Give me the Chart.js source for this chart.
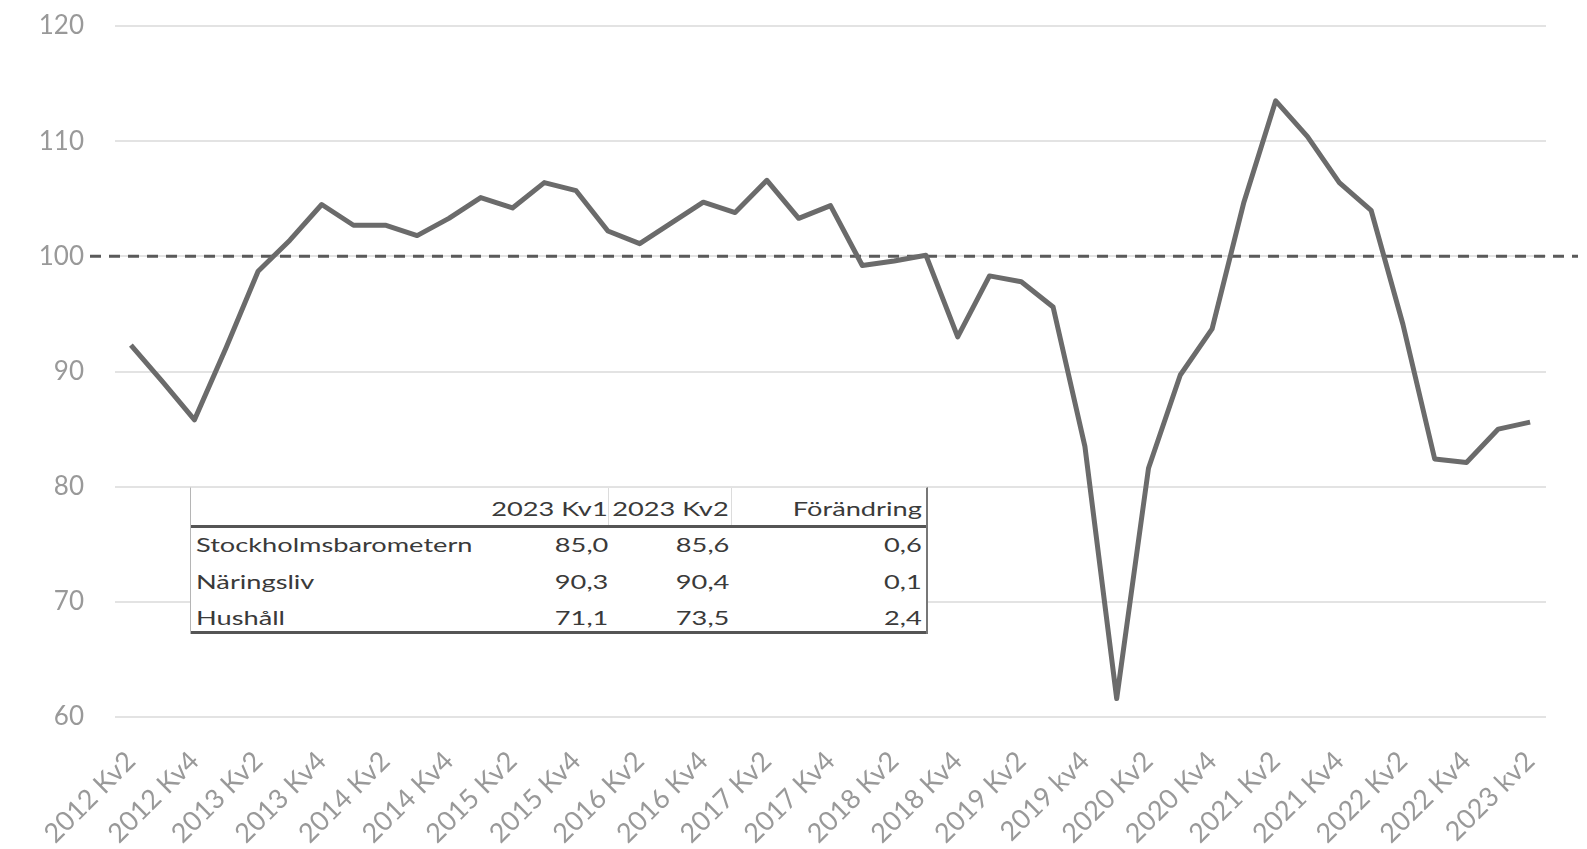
<!DOCTYPE html>
<html>
<head>
<meta charset="utf-8">
<script src="https://cdn.jsdelivr.net/npm/chart.js@4.4.1/dist/chart.umd.min.js"></script>
<style>
  html, body { margin: 0; padding: 0; background: #fff; }
  #wrap { position: relative; width: 1587px; height: 849px; }
  canvas { display: block; }
  #tbl {
    position: absolute; left: 190px; top: 487px; width: 738px; height: 147px;
    background: #fff; box-sizing: border-box;
    border-left: 1px solid #b5b5b5; border-right: 2px solid #777; border-top: 1px solid #e2e2e2;
    font-family: Lato, "Open Sans", sans-serif; font-size: 20px; color: #3a3a3a;
  }
  #tbl .rule { position: absolute; left: 0; right: 0; height: 3px; background: #555; }
  #tbl .sep { position: absolute; top: 0; width: 1px; height: 37px; background: #dcdcdc; }
  #tbl .t { position: absolute; white-space: nowrap; line-height: 24px; height: 24px; }
  #tbl .t span { display: inline-block; transform: scaleX(1.36); transform-origin: left center; }
  #tbl .r span { transform-origin: right center; }
</style>
</head>
<body>
<div id="wrap">
  <canvas id="myfirstchart1" width="1587" height="849"></canvas>
  <div id="tbl"></div>
</div>
<script>
// kvartal 2012 Kv2 .. 2023 Kv2
const quarters = [
  "2012 Kv2", "2012 Kv3", "2012 Kv4",
  "2013 Kv1", "2013 Kv2", "2013 Kv3", "2013 Kv4",
  "2014 Kv1", "2014 Kv2", "2014 Kv3", "2014 Kv4",
  "2015 Kv1", "2015 Kv2", "2015 Kv3", "2015 Kv4",
  "2016 Kv1", "2016 Kv2", "2016 Kv3", "2016 Kv4",
  "2017 Kv1", "2017 Kv2", "2017 Kv3", "2017 Kv4",
  "2018 Kv1", "2018 Kv2", "2018 Kv3", "2018 Kv4",
  "2019 Kv1", "2019 Kv2", "2019 Kv3", "2019 kv4",
  "2020 Kv1", "2020 Kv2", "2020 Kv3", "2020 Kv4",
  "2021 Kv1", "2021 Kv2", "2021 Kv3", "2021 Kv4",
  "2022 Kv1", "2022 Kv2", "2022 Kv3", "2022 Kv4",
  "2023 Kv1", "2023 kv2"
];

const barometer = [
  92.3, 89.1, 85.8,
  92.1, 98.7, 101.4, 104.5,
  102.7, 102.7, 101.8, 103.3,
  105.1, 104.2, 106.4, 105.7,
  102.2, 101.1, 102.9, 104.7,
  103.8, 106.6, 103.3, 104.4,
  99.2, 99.6, 100.1, 93.0,
  98.3, 97.8, 95.6, 83.5,
  61.6, 81.6, 89.7, 93.7,
  104.7, 113.5, 110.4, 106.4,
  104.0, 94.1, 82.4, 82.1,
  85.0, 85.6
];

const referenceLevel = 100;
const yTicks = [60, 70, 80, 90, 100, 110, 120];

// tabellen
const tableHeader = ["2023 Kv1", "2023 Kv2", "Förändring"];
const tableRows = ["Stockholmsbarometern", "Näringsliv", "Hushåll"];
const tableKv1 = ["85,0", "90,3", "71,1"];
const tableKv2 = ["85,6", "90,4", "73,5"];
const tableChange = ["0,6", "0,1", "2,4"];

// kolumnernas högerkanter och radernas mitt (px inne i rutan)
const colRight = [318, 197, 4];
const rowMid = [20, 56, 93, 129];

const tbl = document.getElementById("tbl");
function put(txt, mid, left, right) {
  const d = document.createElement("div");
  d.className = "t" + (right !== undefined ? " r" : "");
  d.style.top = (mid - 12) + "px";
  if (right !== undefined) d.style.right = right + "px"; else d.style.left = left + "px";
  d.innerHTML = "<span>" + txt + "</span>";
  tbl.appendChild(d);
}
[37, 143].forEach(function (y) {
  const r = document.createElement("div");
  r.className = "rule"; r.style.top = y + "px"; tbl.appendChild(r);
});
[417, 540].forEach(function (x) {
  const s = document.createElement("div");
  s.className = "sep"; s.style.left = x + "px"; tbl.appendChild(s);
});
tableHeader.forEach(function (h, c) { put(h, rowMid[0], undefined, colRight[c]); });
tableRows.forEach(function (name, i) {
  put(name, rowMid[i + 1], 5);
  put(tableKv1[i], rowMid[i + 1], undefined, colRight[0]);
  put(tableKv2[i], rowMid[i + 1], undefined, colRight[1]);
  put(tableChange[i], rowMid[i + 1], undefined, colRight[2]);
});

const dashedRef = {
  id: "dashedRef",
  beforeDatasetsDraw(chart) {
    const y = chart.scales.y.getPixelForValue(referenceLevel);
    const ctx = chart.ctx;
    ctx.save();
    ctx.strokeStyle = "#5a5a5a";
    ctx.lineWidth = 3;
    ctx.setLineDash([11, 8]);
    ctx.beginPath();
    ctx.moveTo(chart.chartArea.left - 25, y);
    ctx.lineTo(chart.chartArea.right + 32, y);
    ctx.stroke();
    ctx.restore();
  }
};

new Chart(document.getElementById("myfirstchart1"),
  {
    "type": "line",
    "data": {
      "labels": quarters,
      "datasets": [{
        "label": "Stockholmsbarometern",
        "data": barometer,
        "fill": false,
        "borderColor": "#6b6b6b",
        "borderWidth": 5,
        "pointRadius": 0,
        "tension": 0,
        "borderJoinStyle": "round"
      }]
    },
    "options": {
      "responsive": false,
      "animation": false,
      "layout": { "padding": { "top": 26, "right": 41, "left": 0, "bottom": 0 } },
      "plugins": { "legend": { "display": false }, "tooltip": { "enabled": false } },
      "scales": {
        "x": {
          "offset": true,
          "grid": { "display": false },
          "border": { "display": false },
          "afterFit": function (scale) { scale.height = 132; },
          "ticks": {
            "autoSkip": false,
            "maxRotation": 45,
            "minRotation": 45,
            "padding": 20,
            "color": "#999",
            "font": { "family": "Lato", "size": 27 },
            "callback": function (v, i) { return i % 2 === 0 ? quarters[i] : ""; }
          }
        },
        "y": {
          "min": 60,
          "max": 120,
          "afterFit": function (scale) {
            scale.width = 115;
            scale.paddingTop = 10;
            scale.paddingBottom = 10;
          },
          "afterBuildTicks": function (scale) { scale.ticks = yTicks.map(v => ({ value: v })); },
          "grid": { "color": "#e3e3e3", "lineWidth": 2, "drawTicks": false },
          "border": { "display": false },
          "ticks": {
            "padding": 31,
            "color": "#999",
            "font": { "family": "Lato", "size": 26 }
          }
        }
      }
    },
    "plugins": [dashedRef]
  });
</script>
</body>
</html>
